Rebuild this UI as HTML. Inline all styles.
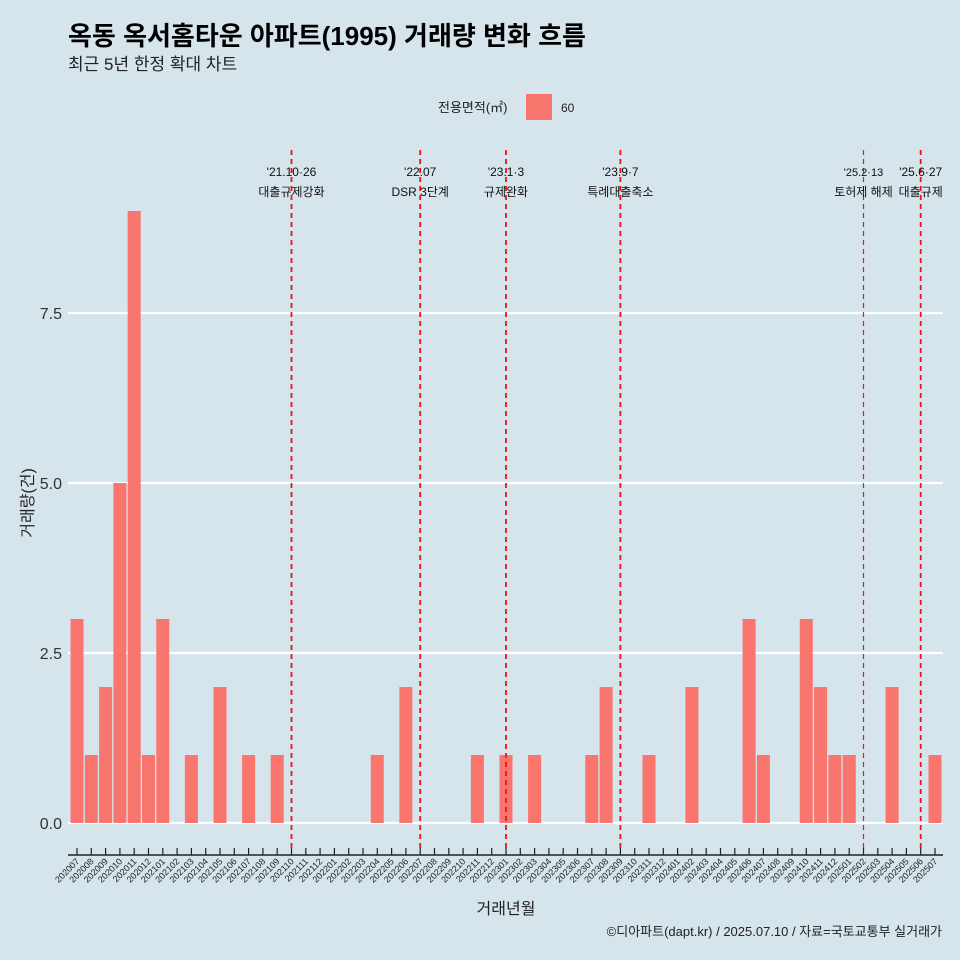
<!DOCTYPE html>
<html><head><meta charset="utf-8">
<style>
body{margin:0;background:#d6e4eb;}
svg{display:block;font-family:"Liberation Sans","Noto Sans CJK KR",sans-serif;}
</style></head>
<body>
<svg id="chart" width="960" height="960" viewBox="0 0 960 960" xmlns="http://www.w3.org/2000/svg">
<rect width="960" height="960" fill="#d6e4eb"/>
<text x="68" y="45" font-size="26" font-weight="bold" fill="#000">옥동 옥서홈타운 아파트(1995) 거래량 변화 흐름</text>
<text x="68" y="70" font-size="17" fill="#222">최근 5년 한정 확대 차트</text>
<g>
<text x="438" y="112" font-size="13" fill="#222">전용면적(㎡)</text>
<rect x="526" y="94" width="26" height="26" fill="#f8766d"/>
<text x="561" y="112" font-size="12" fill="#222">60</text>
</g>
<g id="grid"></g><g id="bars"></g><g id="vlines"></g><g id="xaxis"></g>
<text x="506" y="914" font-size="16" text-anchor="middle" fill="#222">거래년월</text>
<text transform="translate(33,503) rotate(-90)" font-size="16" text-anchor="middle" fill="#222">거래량(건)</text>
<text x="942" y="936" font-size="13" text-anchor="end" fill="#222">©디아파트(dapt.kr) / 2025.07.10 / 자료=국토교통부 실거래가</text>
</svg>
<script>
const months=[];for(let y=2020;y<=2025;y++)for(let m=1;m<=12;m++){const k=y*100+m;if(k>=202007&&k<=202507)months.push(String(k));}
const counts=[3,1,2,5,9,1,3,0,1,0,2,0,1,0,1,0,0,0,0,0,0,1,0,2,0,0,0,0,1,0,1,0,1,0,0,0,1,2,0,0,1,0,0,2,0,0,0,3,1,0,0,3,2,1,1,0,0,2,0,0,1];
const yTicks=[0,2.5,5,7.5];
const yTickLabels=["0.0","2.5","5.0","7.5"];
const eventMonths=["202110","202207","202301","202309","202502","202506"];
const eventDates=["'21.10·26","'22.07","'23.1·3","'23.9·7","'25.2·13","'25.6·27"];
const eventLabels=["대출규제강화","DSR 3단계","규제완화","특례대출축소","토허제 해제","대출규제"];
const NS="http://www.w3.org/2000/svg";
const x0=77,step=14.3,bw=13;
const X=i=>x0+i*step;
const Y=v=>823-v*68;
function el(t,a,p){const e=document.createElementNS(NS,t);for(const k in a)e.setAttribute(k,a[k]);document.getElementById(p).appendChild(e);return e;}
yTicks.forEach((v,i)=>{
 const l=el('line',{x1:68,x2:943,y1:Y(v),y2:Y(v),stroke:'#fff','stroke-width':2.2},'grid');
 
 
 const t=el('text',{x:62,y:Y(v)+6,'font-size':16,'text-anchor':'end',fill:'#333'},'grid');t.textContent=yTickLabels[i];
 
 
});
counts.forEach((c,i)=>{if(c<=0)return;
 const r=el('rect',{x:X(i)-bw/2,y:Y(c),width:bw,height:Y(0)-Y(c),fill:'#f8766d'},'bars');
 
 
});
eventMonths.forEach((m,j)=>{const i=months.indexOf(m);const x=X(i);
 const l=el('line',{x1:x,x2:x,y1:150,y2:848,stroke:'#e8141b','stroke-width':m==="202502"?1.2:1.8,'stroke-dasharray':'5,4'},'vlines');
 
 
 const small=m==="202502";
 const t1=el('text',{x:x,y:176,'font-size':small?11:12,'text-anchor':'middle',fill:'#111'},'vlines');t1.textContent=eventDates[j];
 
 
 const t2=el('text',{x:x,y:196,'font-size':12,'text-anchor':'middle',fill:'#111'},'vlines');t2.textContent=eventLabels[j];
 
 
});
const ax=el('line',{x1:68,x2:943,y1:855,y2:855,stroke:'#222','stroke-width':1.5},'xaxis');


months.forEach((m,i)=>{const x=X(i);
 const tk=el('line',{x1:x,x2:x,y1:848,y2:855,stroke:'#222','stroke-width':1.2},'xaxis');
 
 
 const t=el('text',{x:x+3,y:862,'font-size':9,'text-anchor':'end',fill:'#222',transform:`rotate(-45 ${x+3} 862)`},'xaxis');t.textContent=m;
 
 
});
</script>
</body></html>
